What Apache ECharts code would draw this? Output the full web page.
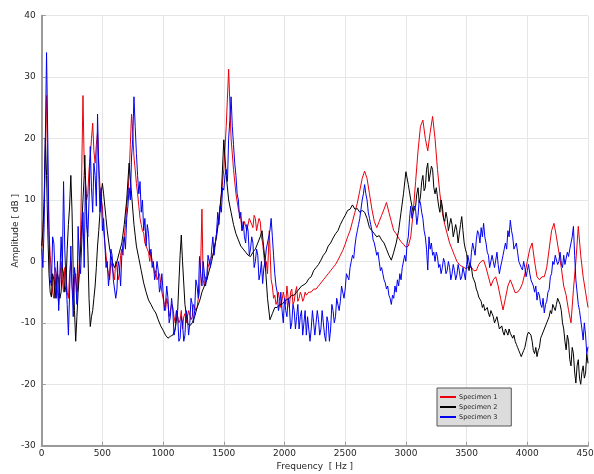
<!DOCTYPE html>
<html>
<head>
<meta charset="utf-8">
<script src="https://cdn.jsdelivr.net/npm/echarts@6/dist/echarts.min.js"></script>
<style>
html,body{margin:0;padding:0;background:#fff;}
#chart{width:594px;height:474px;}
</style>
</head>
<body>
<div id="chart"></div>
<script>
var xTicks = [0, 500, 1000, 1500, 2000, 2500, 3000, 3500, 4000, 4500];
var yTicks = [-30, -20, -10, 0, 10, 20, 30, 40];
var seriesNames = ['Specimen 1', 'Specimen 2', 'Specimen 3'];

// Specimen 1 (red): [frequency Hz, amplitude dB]
var specimen1 = [
[0,2],[10,5],[20,9],[30,18],[40,27],[50,14],[60,5],[70,1],[80,-2],[90,-5],[100,-6],[110,-1],[120,-2],[130,-5],[140,-7],[150,-3],[160,0],[170,-3],[180,-5],[190,-1],[200,-2],[210,-5],[220,-6],[230,-2],[240,0],[250,-4],[260,-6],[270,-3],[280,-2],[290,-5],[300,-4],[310,0],[320,4],[330,15],[340,27],[350,16],[360,13],[370,10],[380,11],[390,15],[400,17],[410,20],[420,22.5],[430,18],[440,16],[450,19],[460,21],[470,16],[480,12],[490,10],[500,9],[510,5],[520,3],[530,1],[540,-1],[550,-2],[560,-3],[570,0],[580,-1],[590,-2],[600,-3],[610,0],[620,-1],[630,-3],[640,-2],[650,1],[660,2],[670,1],[680,4],[690,6],[700,9],[710,11],[720,14],[730,19],[740,24],[750,21],[760,17],[770,15],[780,12.7],[790,11],[800,9],[810,7],[820,6],[830,5],[840,4.6],[850,3],[860,3],[870,2],[880,1.5],[890,0],[900,1.5],[910,0],[920,-0.5],[930,-2],[940,-1.5],[950,-3],[960,-3],[970,-2],[980,-3.5],[990,-5],[1000,-6],[1010,-7],[1020,-8],[1030,-6],[1040,-7],[1050,-9],[1060,-9],[1070,-7],[1080,-7.5],[1090,-9],[1100,-10],[1110,-8],[1120,-8],[1130,-10],[1140,-9.5],[1150,-8],[1160,-11],[1170,-9],[1180,-8.5],[1190,-10],[1200,-10],[1210,-8],[1220,-8],[1230,-9.5],[1240,-9],[1250,-7],[1260,-7],[1270,-8],[1280,-7.5],[1290,-6],[1300,-5],[1310,0],[1320,8.5],[1330,-3],[1340,-4],[1350,-2.5],[1360,-3],[1370,-1],[1380,-1],[1390,0.5],[1400,0.5],[1410,1],[1420,2],[1430,3],[1440,4.5],[1460,7],[1480,11],[1500,15],[1520,22],[1540,31.3],[1560,20],[1580,15],[1600,11],[1620,8.5],[1640,7],[1650,5],[1660,5.5],[1670,6.5],[1680,6.5],[1690,5],[1700,5],[1710,7],[1720,7],[1730,6],[1740,5.5],[1750,7.5],[1760,7],[1770,5],[1780,5],[1790,7],[1800,6.5],[1810,4],[1820,3],[1830,1],[1840,-1],[1850,0],[1860,-2],[1875,5],[1890,-3],[1900,-4],[1910,-6],[1920,-5.5],[1930,-7],[1940,-6.5],[1950,-5],[1960,-5],[1970,-7.5],[1980,-7.5],[1990,-5],[2000,-6],[2010,-7],[2020,-4],[2030,-6],[2040,-7.5],[2050,-5],[2060,-4.5],[2070,-7],[2080,-6.5],[2090,-5],[2100,-4.1],[2110,-6.5],[2120,-6],[2130,-5],[2140,-5.5],[2150,-6.5],[2160,-6],[2170,-5],[2180,-5.5],[2200,-5],[2220,-5],[2240,-4.5],[2260,-4.5],[2280,-4],[2300,-3.5],[2320,-3],[2340,-2.5],[2360,-2],[2380,-1.5],[2400,-1],[2420,-0.5],[2440,0.2],[2460,1],[2480,1.8],[2500,2.8],[2520,4],[2540,5],[2560,6.5],[2580,8],[2600,9.5],[2620,11.5],[2640,13.5],[2660,14.7],[2680,13.5],[2700,11],[2720,8.5],[2740,6.5],[2760,5.5],[2780,6.5],[2800,7.5],[2820,8.5],[2840,9.6],[2860,8],[2880,6.5],[2900,5],[2920,4.5],[2940,3.8],[2960,3.2],[2980,2.8],[3000,2.3],[3020,2.5],[3040,4],[3060,8],[3080,13],[3100,18],[3120,22],[3140,23],[3160,20],[3180,18],[3200,21],[3220,23.6],[3240,20],[3260,15],[3280,11],[3300,8],[3320,6],[3340,4.5],[3360,3],[3380,2],[3400,1],[3420,0],[3440,-0.5],[3460,-0.8],[3480,-1],[3500,-1.2],[3520,-0.8],[3540,-1],[3560,-1.5],[3580,-1.5],[3600,-0.5],[3620,0],[3640,0.2],[3660,-1],[3680,-2.5],[3700,-4],[3720,-3],[3740,-2.5],[3760,-4],[3780,-6],[3800,-7.9],[3820,-6],[3840,-4],[3860,-3],[3880,-4],[3900,-5.1],[3920,-5],[3940,-4.5],[3960,-3.6],[3980,-2],[4000,0],[4020,2],[4040,3],[4060,0],[4080,-2.5],[4100,-3],[4120,-2.5],[4140,-2.5],[4160,-1],[4180,2],[4200,5],[4220,6.2],[4240,4],[4260,1.5],[4280,-1],[4300,-4],[4320,-5.5],[4340,-8],[4360,-10],[4380,-4.6],[4400,0],[4420,5.7],[4440,1],[4460,-2.5],[4480,-5],[4500,-7.5]
];

// Specimen 2 (black)
var specimen2 = [
[0,2.5],[10,5],[20,10],[30,20],[40,14],[50,5],[60,-2],[70,-5],[80,-5.8],[90,-2],[100,-3],[110,-6],[120,-6],[130,-2],[140,-3],[150,-6],[160,-5],[170,-1],[180,-2],[190,-5],[200,-4],[210,2],[220,6],[230,9],[240,14],[250,8],[260,-2],[270,-8],[280,-13],[290,-9],[300,-5],[310,-2],[320,2],[330,6],[340,10],[350,14],[355,17.3],[360,14],[370,8],[380,2],[390,-6],[400,-10.6],[410,-9],[420,-8],[430,-6],[440,-4],[450,-1],[460,2.5],[470,5],[480,8],[490,11],[500,12.7],[510,11],[520,9],[530,7],[540,5],[560,2],[580,0],[600,-1],[620,0],[640,1.5],[660,3],[680,6],[700,10],[720,16],[740,11],[760,6],[780,2.5],[800,0.5],[820,-1.5],[840,-3.5],[860,-5],[880,-6.3],[900,-7],[920,-7.8],[940,-8.4],[960,-9.5],[980,-10.5],[1000,-11.2],[1020,-12],[1040,-12.5],[1060,-12.2],[1080,-12],[1100,-11],[1120,-8],[1140,1],[1150,4.3],[1160,0],[1180,-7],[1200,-10],[1220,-10.5],[1240,-10],[1260,-9],[1280,-7.5],[1300,-6.5],[1320,-5],[1340,-4],[1360,-3],[1380,-1.5],[1400,0],[1420,2],[1440,4],[1460,7],[1480,11],[1500,19.8],[1520,14],[1540,10],[1560,8],[1580,6],[1600,4.5],[1620,3.5],[1640,2.5],[1660,2],[1680,1.5],[1700,1],[1720,0.8],[1740,1.5],[1760,2],[1780,3],[1800,4],[1815,5],[1840,0],[1860,-6],[1880,-9.5],[1900,-8.5],[1920,-7.5],[1940,-7.5],[1960,-7],[1980,-7],[2000,-6.5],[2020,-6.2],[2040,-6],[2060,-5.5],[2080,-5.5],[2100,-5],[2120,-4.5],[2140,-4],[2160,-3.8],[2180,-3.5],[2200,-2.8],[2220,-2.5],[2240,-1.5],[2260,-1],[2280,-0.5],[2300,0.2],[2320,1],[2340,1.5],[2360,2.5],[2380,3],[2400,3.8],[2420,4.5],[2440,5],[2460,6],[2480,6.8],[2500,7.5],[2520,8.3],[2540,8.5],[2560,9.2],[2580,8.5],[2600,8.6],[2620,8],[2640,8.3],[2660,8],[2680,7],[2700,5.5],[2720,5],[2740,4.5],[2760,4],[2780,4.2],[2800,3.5],[2820,3],[2840,2],[2860,1],[2880,0.2],[2900,1.5],[2920,3],[2940,5],[2960,8],[2980,11],[3000,14.6],[3020,12.5],[3040,10],[3060,8],[3080,9],[3090,11],[3100,12],[3110,9.5],[3120,10.5],[3130,13],[3140,14],[3150,11.5],[3160,12],[3170,15],[3180,16],[3190,13],[3200,13],[3210,15.5],[3220,15],[3230,12],[3240,11],[3250,12],[3260,10.5],[3270,9],[3280,8],[3290,10],[3300,9],[3310,7],[3320,6.5],[3330,8],[3340,7],[3350,5],[3360,5],[3370,7],[3380,6],[3390,4],[3400,4],[3410,6],[3420,5],[3430,3],[3440,3],[3450,6],[3460,7.3],[3470,5],[3480,3],[3490,2],[3500,1.3],[3510,-0.5],[3520,-1.5],[3530,-0.5],[3540,-1],[3550,-2.5],[3560,-3],[3570,-3.5],[3580,-4.5],[3590,-5],[3600,-5.8],[3610,-6],[3620,-6.5],[3630,-7.5],[3640,-7],[3650,-8],[3660,-8],[3670,-7.5],[3680,-8.4],[3690,-9],[3700,-8],[3710,-8.5],[3720,-9],[3730,-10],[3740,-9.5],[3750,-9],[3760,-10],[3770,-11],[3780,-11.2],[3790,-10.5],[3800,-11.5],[3810,-12],[3820,-11],[3830,-11.5],[3840,-12],[3850,-11],[3860,-11.7],[3870,-12],[3880,-12.5],[3890,-12],[3900,-13],[3910,-13.5],[3920,-14],[3930,-14.5],[3940,-15],[3950,-15.5],[3960,-15.5],[3970,-14.5],[3980,-14],[3990,-13],[4000,-12],[4010,-11.5],[4020,-11.2],[4030,-12],[4040,-13],[4050,-14.5],[4060,-15],[4070,-14],[4080,-15.5],[4090,-14.5],[4100,-14],[4110,-12.5],[4120,-12],[4130,-11.5],[4140,-11],[4150,-10.5],[4160,-10],[4170,-9.5],[4180,-9],[4190,-8],[4200,-8.5],[4210,-7],[4220,-7.5],[4230,-8],[4240,-7],[4250,-6],[4260,-6.3],[4270,-7],[4280,-8],[4290,-10],[4300,-11],[4310,-13],[4320,-14.4],[4330,-12],[4340,-13],[4350,-16],[4360,-17],[4370,-14],[4380,-15],[4390,-18],[4400,-19.8],[4410,-17],[4420,-16],[4430,-19],[4440,-20],[4450,-18],[4460,-17],[4470,-19],[4480,-18.2],[4490,-15],[4500,-16.6]
];

// Specimen 3 (blue)
var specimen3 = [
[0,2],[10,-1],[20,6],[30,20],[40,34],[50,20],[60,5],[70,-3],[80,-4],[90,4],[100,3],[110,-2],[120,-6],[130,0],[140,-8],[150,-2],[160,4],[170,-1],[180,13],[190,2],[200,-3],[210,-7],[220,-12],[230,-5],[240,2.5],[250,-4],[260,-9],[270,-1],[280,-3],[290,-7],[300,5.7],[310,0],[320,-2],[330,3],[340,8],[350,-1],[360,13],[370,6],[380,4],[390,10],[400,18.7],[410,12],[420,8],[430,16],[440,14],[450,9],[460,24],[470,15],[480,8],[490,12],[500,5],[510,7],[520,3],[530,-1],[540,0],[550,-4],[560,-2],[570,2],[580,1],[590,-3],[600,-3],[610,-6],[620,-4.5],[630,0],[640,-1],[650,-4],[660,1],[670,3],[680,4],[690,2],[700,7],[710,9],[720,12],[730,10],[740,17],[750,20],[760,26.8],[770,22],[780,17.6],[790,14],[800,11],[810,13],[820,8],[830,10],[840,5],[850,7],[860,2.5],[870,6],[880,4.5],[890,1],[900,2],[910,-1],[920,0],[930,-3],[940,-2],[950,0],[960,-1.5],[970,-5],[980,-4],[990,-2],[1000,-5],[1010,-8],[1020,-7],[1030,-4],[1040,-6],[1050,-10],[1060,-9],[1070,-6],[1080,-8],[1090,-12],[1100,-11],[1110,-8],[1120,-9],[1130,-13],[1140,-12.5],[1150,-9],[1160,-10],[1170,-13],[1180,-12],[1190,-8],[1200,-9],[1210,-12],[1220,-10],[1230,-6],[1240,-7],[1250,-10],[1260,-8],[1270,-3],[1280,-4],[1290,-6],[1300,0.8],[1310,-2],[1320,-4],[1330,0],[1340,-2],[1350,-4],[1360,-2.5],[1370,1],[1380,0],[1390,-1],[1400,2],[1410,4],[1420,1],[1430,3],[1440,4.6],[1450,8],[1460,6],[1470,9],[1480,8],[1490,12],[1500,11.6],[1510,14],[1520,15],[1530,13],[1540,20],[1550,23],[1560,26.8],[1570,22],[1580,19],[1590,16],[1600,14],[1610,11],[1620,10],[1630,7],[1640,8],[1650,5],[1660,6.5],[1670,4],[1680,3],[1690,6],[1700,5],[1710,1],[1720,2],[1730,4],[1740,3],[1750,-1],[1760,0],[1770,2],[1780,1],[1790,-3],[1800,-2],[1810,0],[1820,-3.6],[1830,-1],[1840,0],[1850,2],[1860,3],[1870,4],[1880,5],[1890,7],[1900,4],[1910,1],[1920,-2],[1930,-4],[1940,-5],[1950,-8],[1960,-7],[1970,-5],[1980,-8],[1990,-10],[2000,-6],[2010,-8],[2020,-9],[2030,-6],[2040,-7],[2050,-11],[2060,-10],[2070,-7],[2080,-8],[2090,-11],[2100,-9],[2110,-7],[2120,-11],[2130,-9],[2140,-8],[2150,-12],[2160,-10],[2170,-8],[2180,-12],[2190,-9],[2200,-9],[2210,-13],[2220,-11],[2230,-8],[2240,-10],[2250,-12],[2260,-12],[2270,-8],[2280,-9.5],[2290,-12],[2300,-11],[2310,-8],[2320,-10],[2330,-12],[2340,-13],[2350,-9],[2360,-10],[2370,-13],[2380,-11],[2390,-7],[2400,-8],[2410,-10],[2420,-9],[2430,-6],[2440,-6],[2450,-8],[2460,-6.5],[2470,-4],[2480,-4],[2490,-6],[2500,-4.5],[2510,-2],[2520,-2],[2530,-3],[2540,-1],[2550,0],[2560,1],[2570,0.5],[2580,2.5],[2590,4],[2600,5],[2610,6],[2620,7],[2630,8.5],[2640,10],[2650,11],[2660,12.5],[2670,11],[2680,10],[2690,8],[2700,7],[2710,6],[2720,5],[2730,3.5],[2740,3],[2750,2],[2760,1],[2770,1.5],[2780,0],[2790,-1.5],[2800,-1],[2810,-2],[2820,-3],[2830,-3.5],[2840,-4.5],[2850,-4],[2860,-5.5],[2870,-6],[2880,-7],[2890,-5.5],[2900,-6],[2910,-4],[2920,-5],[2930,-3],[2940,-4],[2950,-2],[2960,-3],[2970,-1],[2980,-1],[2990,1],[3000,0],[3010,3],[3020,4],[3030,7],[3040,9],[3050,7],[3060,8],[3070,9],[3080,8.4],[3090,6],[3100,7.5],[3110,10],[3120,9.5],[3130,8],[3140,7],[3150,5],[3160,4],[3170,2],[3180,-1.4],[3190,4],[3200,2],[3210,3],[3220,1],[3230,1.5],[3240,0],[3250,1.5],[3260,0.8],[3270,-1],[3280,-0.5],[3290,-2],[3300,-1],[3310,0.5],[3320,-0.2],[3330,-2],[3340,-1.5],[3350,0],[3360,-1],[3370,-3],[3380,-2],[3390,-0.5],[3400,-1.5],[3410,-3],[3420,-2.2],[3430,-0.5],[3440,-1.5],[3450,-3],[3460,-2.5],[3470,-1],[3480,-1.9],[3490,-3],[3500,-0.5],[3510,1],[3520,0],[3530,-1],[3540,1.5],[3550,3],[3560,2],[3570,1],[3580,3.5],[3590,5],[3600,4.5],[3610,3],[3620,5.5],[3630,4],[3640,6.2],[3650,4],[3660,3],[3670,1.5],[3680,1],[3690,-1],[3700,-0.9],[3710,1],[3720,0],[3730,-1],[3740,0.2],[3750,1.5],[3760,-0.5],[3770,-2],[3780,-0.9],[3790,0],[3800,1],[3810,2],[3820,3],[3830,2],[3840,5],[3850,4],[3860,6.7],[3870,5],[3880,4],[3890,2],[3900,2.5],[3910,3],[3920,1.5],[3930,0],[3940,0],[3950,-1],[3960,-1.4],[3970,0],[3980,-1],[3990,-2.5],[4000,-1.5],[4010,-0.5],[4020,-1.9],[4030,-3],[4040,-3],[4050,-4],[4060,-5],[4070,-4],[4080,-6.3],[4090,-5],[4100,-5.5],[4110,-7],[4120,-7.5],[4130,-6],[4140,-8.4],[4150,-7],[4160,-6.5],[4170,-5],[4180,-4.6],[4190,-2.5],[4200,-2],[4210,0],[4220,-0.5],[4230,1],[4240,1.3],[4250,-0.5],[4260,0],[4270,1.5],[4280,-0.3],[4290,-1],[4300,1],[4310,-0.5],[4320,-0.5],[4330,1.5],[4340,0.8],[4350,2],[4360,3],[4370,4],[4380,5.7],[4390,1],[4400,-3],[4410,-5],[4420,-7],[4430,-8],[4440,-9.5],[4450,-11],[4460,-12.8],[4470,-10],[4480,-12],[4490,-15],[4500,-13.9]
];

var colors = ['#e8000b', '#000000', '#0000f0'];
var allData = [specimen1, specimen2, specimen3];

var chart = echarts.init(document.getElementById('chart'), null, {renderer: 'canvas'});
var textStyleBase = {fontFamily: 'DejaVu Sans', color: '#262626', fontSize: 9};

chart.setOption({
  animation: false,
  backgroundColor: '#ffffff',
  textStyle: {fontFamily: 'DejaVu Sans'},
  grid: {left: 41.7, right: 6, top: 15.7, bottom: 28.3, containLabel: false, outerBoundsMode: 'none'},
  legend: {
    data: seriesNames,
    orient: 'vertical',
    left: 437, top: 388,
    backgroundColor: '#dcdcdc',
    borderColor: '#555555',
    borderWidth: 1,
    padding: [5, 14, 5, 3],
    itemWidth: 16, itemHeight: 2, itemGap: 2,
    icon: 'rect',
    textStyle: {fontFamily: 'DejaVu Sans', fontSize: 6.5, color: '#222', lineHeight: 8, padding: [0,0,0,-2]}
  },
  xAxis: {
    type: 'value', min: xTicks[0], max: xTicks[xTicks.length-1], interval: 500,
    name: 'Frequency  [ Hz ]', nameLocation: 'middle', nameGap: 15,
    nameTextStyle: textStyleBase,
    axisLine: {show: true, onZero: false, lineStyle: {color: '#9a9a9a', width: 2}},
    axisTick: {show: true, inside: true, length: 4, lineStyle: {color: '#9a9a9a'}},
    axisLabel: {fontFamily: 'DejaVu Sans', fontSize: 9, color: '#262626', margin: 3,
      formatter: function (v) { return String(v); }},
    splitLine: {show: true, lineStyle: {color: '#e6e6e6', width: 1}}
  },
  yAxis: {
    type: 'value', min: yTicks[0], max: yTicks[yTicks.length-1], interval: 10,
    name: 'Amplitude [ dB ]', nameLocation: 'middle', nameGap: 22, nameMoveOverlap: false,
    nameTextStyle: textStyleBase,
    axisLine: {show: true, lineStyle: {color: '#9a9a9a', width: 2}},
    axisTick: {show: true, inside: true, length: 4, lineStyle: {color: '#9a9a9a'}},
    axisLabel: {fontFamily: 'DejaVu Sans', fontSize: 9, color: '#262626', margin: 6,
      formatter: function (v) { return String(v); }},
    splitLine: {show: true, lineStyle: {color: '#e6e6e6', width: 1}}
  },
  series: seriesNames.map(function (n, i) {
    return {
      name: n, type: 'line', data: allData[i],
      showSymbol: false, symbol: 'none',
      color: colors[i],
      lineStyle: {width: 1, color: colors[i]},
      z: 2 + i
    };
  })
});
</script>
</body>
</html>
